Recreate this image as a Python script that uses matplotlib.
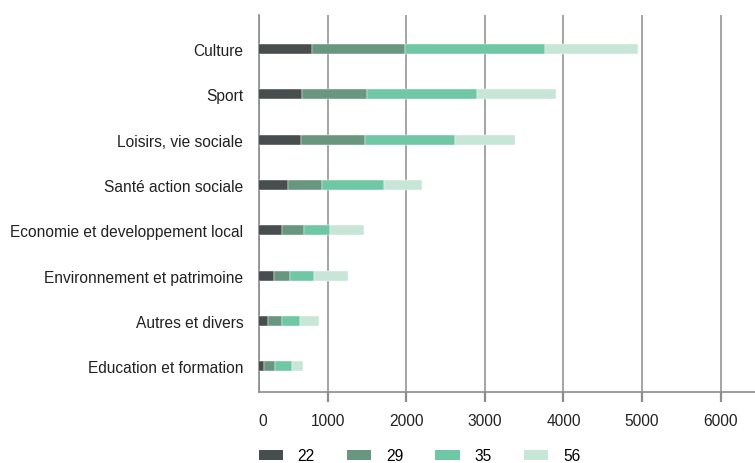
import numpy as np
import matplotlib
matplotlib.use("Agg")
import matplotlib.pyplot as plt
from matplotlib.patches import Patch

plt.rcParams['font.family'] = ['Liberation Sans', 'DejaVu Sans']

categories = ["Culture", "Sport", "Loisirs, vie sociale", "Santé action sociale",
              "Economie et developpement local", "Environnement et patrimoine",
              "Autres et divers", "Education et formation"]
series_names = ["22", "29", "35", "56"]
s22 = [807, 671, 658, 489, 421, 311, 247, 196]
s29 = [1174, 827, 823, 433, 276, 216, 170, 140]
s35 = [1785, 1399, 1136, 789, 339, 305, 237, 204]
s56 = [1187, 1009, 767, 487, 420, 424, 237, 148]
colors = ["#474e4d", "#68967f", "#6fc7a6", "#c7e6d8"]

tick_values = [120, 1000, 2000, 3000, 4000, 5000, 6000]
tick_labels = ["0", "1000", "2000", "3000", "4000", "5000", "6000"]

fs = 11.2

fig = plt.figure(figsize=(7.55, 4.64), dpi=100)
ax = fig.add_axes([258.5 / 755, 71 / 464, 1 - 258.5 / 755, (393 - 16) / 464])

y = np.arange(len(categories))
left = np.zeros(len(categories))
for vals, c in zip([s22, s29, s35, s56], colors):
    ax.barh(y, vals, left=left, height=0.22, color=c, edgecolor="white", linewidth=0.3, zorder=3)
    left += np.array(vals)

ax.set_xlim(120, 6437)
ax.set_ylim(7.57, -0.75)
ax.set_yticks(y)
ax.set_yticklabels(categories, fontsize=fs, color="#222222")
ax.tick_params(axis="y", length=0, pad=11)
ax.set_xticks(tick_values)
ax.set_xticklabels(tick_labels, fontsize=fs, color="#222222")
ax.tick_params(axis="x", length=7.5, width=1.6, color="#8c8c8c", pad=7.5)
ax.xaxis.get_major_ticks()[0].tick1line.set_visible(False)
ax.get_xticklabels()[0].set_ha("left")

ax.grid(axis="x", color="#8c8c8c", linewidth=1.1, zorder=0)
for s in ["top", "right"]:
    ax.spines[s].set_visible(False)
for s in ["left", "bottom"]:
    ax.spines[s].set_color("#8c8c8c")
    ax.spines[s].set_linewidth(1.2)

handles = [Patch(facecolor=c, edgecolor="none") for c in colors]
fig.legend(handles, series_names, loc="center left", bbox_to_anchor=(258.5 / 755, 7 / 464),
           ncol=4, frameon=False, fontsize=fs, handlelength=1.55, handleheight=0.65,
           handletextpad=0.95, columnspacing=2.08, borderpad=0, borderaxespad=0)

fig.savefig("out.png", dpi=100)
